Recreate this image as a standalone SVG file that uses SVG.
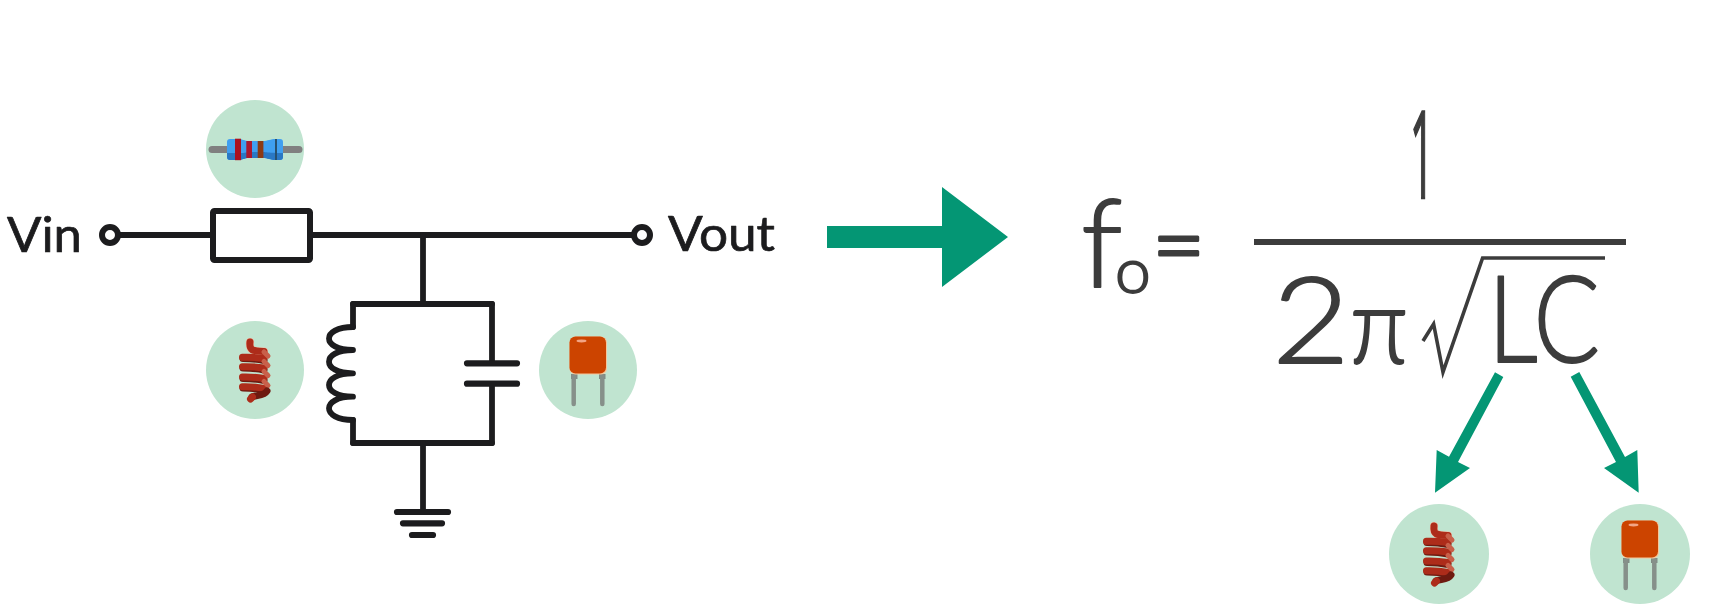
<svg xmlns="http://www.w3.org/2000/svg" width="1720" height="612" viewBox="0 0 1720 612">
<style>
.w{fill:none;stroke:#1c1c1e;stroke-width:5.800;stroke-linecap:round;stroke-linejoin:round}
.p{fill:none;stroke:#1c1c1e;stroke-width:6.200;stroke-linecap:round}
.b{fill:#c0e4d0}
.g{fill:#049674}
.t{font-family:"Lato","Liberation Sans",sans-serif;fill:#1c1c1e;font-size:48px;stroke:#1c1c1e;stroke-width:.7;stroke-linejoin:round}
.m{font-family:"Lato","Liberation Sans",sans-serif;fill:#3c3c3c;font-weight:300;stroke:#3c3c3c;stroke-width:1.8;stroke-linejoin:round}
.lead{fill:none;stroke:#86908a;stroke-width:4.500;stroke-linecap:round}
.c1{fill:none;stroke:#ad2c1a;stroke-width:7;stroke-linecap:round}
.c2{fill:none;stroke:#6e1a10;stroke-width:7;stroke-linecap:round}
.c3{fill:none;stroke:#c8604a;stroke-width:5;stroke-linecap:round}
</style>
<defs>
<g id="coil">
<path d="M-5-28C-6-19-2-19 9-18.500" fill="none" stroke="#f3b9a0" stroke-width="8" stroke-linecap="round"/>
<path class="c1" d="M-5-28C-6-19-2-19 9-18.500"/>
<path class="c2" d="M-12-11.500C-5-11.500 2-11 9-9.500M-12-2C-5-2 2-1.500 9 0M-12 8.500C-5 8.500 2 9 9 10.500M-12 18C-5 18 2 18.500 9 20"/>
<path class="c1" d="M-12.500-12.700C-5-13 2-12.500 9-11.500M-12.500-3.300C-5-3.500 2-3 9-2M-12.500 7C-5 6.800 2 7.300 9 8.500M-12.500 16.700C-5 16.500 2 17 9 18.500"/>
<path class="c3" d="M9-18L13-14M9-8.500L13-4.500M9 1.500L13 5.500M9 11.500L13 15.500"/>
<path class="c2" d="M12 21C9 26 1 25-3 27"/>
<path class="c1" d="M-4.500 29L-2.500 27"/>
</g>
<g id="cap">
<rect x="-17" y="4" width="6.500" height="5" fill="#7f8c85"/>
<rect x="11" y="4" width="6.500" height="5" fill="#7f8c85"/>
<line class="lead" x1="-14.300" y1="6" x2="-14.300" y2="34"/>
<line class="lead" x1="14.300" y1="6" x2="14.300" y2="34"/>
<rect x="-18.500" y="-33.500" width="37.500" height="38" rx="6" fill="#f6c69a"/>
<rect x="-18.500" y="-33.500" width="36.500" height="37" rx="6" fill="#cc4400"/>
<ellipse cx="-6.500" cy="-29" rx="5" ry="1.400" fill="#f2a585"/>
</g>
</defs>

<g id="connectors">
<path class="w" d="M118 235H211"/>
<path class="w" d="M312 235H634"/>
<path class="w" d="M423 235V304"/>
<path class="w" d="M353 304H492"/>
<path class="w" d="M353 443H492"/>
<path class="w" d="M353 304V327"/>
<path class="w" d="M353 420V443"/>
<path class="w" d="M492 304V363"/>
<path class="w" d="M492 384V443"/>
<path class="w" d="M423 443V512"/>
<polygon class="g" points="827,226 942,226 942,187 1008,237 942,287 942,248 827,248"/>
<polygon class="g" points="1495,372.300 1503.300,377 1458,462 1470,468 1435,492.700 1436.700,450 1449,456.700"/>
<polygon class="g" points="1570.700,376.700 1579.300,372 1625,457 1637.300,450 1638.700,492.700 1604,468 1616,462"/>
</g>

<g id="vin-terminal">
<circle cx="110" cy="235" r="8" fill="#fff" stroke="#1c1c1e" stroke-width="6"/>
<text class="t" x="7" y="252" textLength="75" lengthAdjust="spacingAndGlyphs">Vin</text>
</g>
<g id="vout-terminal">
<circle cx="642" cy="235" r="8" fill="#fff" stroke="#1c1c1e" stroke-width="6"/>
<text class="t" x="668" y="251" textLength="107" lengthAdjust="spacingAndGlyphs">Vout</text>
</g>

<g id="resistor-symbol">
<rect x="213" y="211" width="97" height="49" rx="1.500" fill="#fff" stroke="#1c1c1e" stroke-width="6" stroke-linejoin="round"/>
</g>
<g id="resistor-badge">
<circle class="b" cx="255" cy="149" r="49"/>
<line x1="212" y1="149.500" x2="299" y2="149.500" stroke="#808080" stroke-width="7" stroke-linecap="round"/>
<path d="M230 139H238C243 139 244 141 249 141H263C268 141 270 139 276 139H280Q283 139 283 142V157Q283 160 280 160H276C270 160 268 158 263 158H249C244 158 243 160 238 160H230Q227 160 227 157V142Q227 139 230 139Z" fill="#3f9ff0"/>
<path d="M227 153H243C246 153 247 152 249 152H263C266 152 268 153 283 153V157Q283 160 280 160H276C270 160 268 158 263 158H249C244 158 243 160 238 160H230Q227 160 227 157Z" fill="#2a78c4"/>
<rect x="235" y="138.700" width="6" height="21.500" fill="#ab1020"/>
<rect x="246.300" y="141" width="5.700" height="17" fill="#ab1830"/>
<rect x="257.700" y="141" width="5.700" height="17" fill="#8c3a14"/>
<rect x="275" y="139" width="2" height="21" fill="#27506e"/>
</g>

<g id="inductor-symbol">
<path class="w" d="M353 327C321 327 321 350 353 350C321 350 321 373.300 353 373.300C321 373.300 321 396.700 353 396.700C321 396.700 321 420 353 420"/>
</g>
<g id="inductor-badge">
<circle class="b" cx="255" cy="370" r="49"/>
<use href="#coil" x="255" y="370"/>
</g>

<g id="capacitor-symbol">
<path class="p" d="M467 363.300H517M467 383.700H517"/>
</g>
<g id="capacitor-badge">
<circle class="b" cx="588" cy="370" r="49"/>
<use href="#cap" x="588" y="370"/>
</g>

<g id="ground">
<path class="p" d="M397 512H448M403 523.300H442M412 535H433"/>
</g>

<g id="formula">
<text class="m" x="1081" y="287" font-size="122">f<tspan x="1115" y="293" font-size="64">o</tspan><tspan x="1152" y="277" font-size="92" style="stroke-width:3">=</tspan></text>
<text x="1410" y="198" font-size="120" textLength="24" lengthAdjust="spacingAndGlyphs" font-family="'Open Sans','Liberation Sans',sans-serif" fill="#3c3c3c" stroke="#3c3c3c" stroke-width="2.500">1</text>
<rect x="1254" y="239" width="372" height="6" fill="#3c3c3c"/>
<text class="m" x="1272" y="363" font-size="120" textLength="78" lengthAdjust="spacingAndGlyphs">2</text>
<text class="m" x="1350" y="363" font-size="108" textLength="58" lengthAdjust="spacingAndGlyphs">π</text>
<polyline points="1423,341 1433.600,324 1443,372 1482.600,258 1605,258" fill="none" stroke="#3c3c3c" stroke-width="3.600"/>
<text class="m" x="1488" y="362" font-size="120" textLength="112" lengthAdjust="spacingAndGlyphs">LC</text>
</g>

<g id="inductor-badge-2">
<circle class="b" cx="1439" cy="554" r="50"/>
<use href="#coil" x="1439" y="554"/>
</g>
<g id="capacitor-badge-2">
<circle class="b" cx="1640" cy="554" r="50"/>
<use href="#cap" x="1640" y="554"/>
</g>
</svg>
